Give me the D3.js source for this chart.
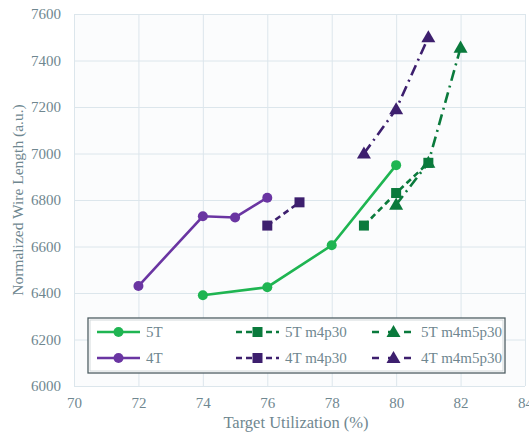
<!DOCTYPE html>
<html>
<head>
<meta charset="utf-8">
<script src="https://cdn.jsdelivr.net/npm/d3@7"></script>
<style>
  body { margin: 0; background: #fff; }
  svg { display: block; }
  svg text { font-family: "Liberation Serif", "DejaVu Serif", serif !important; }
</style>
</head>
<body>
<svg id="chart" width="529" height="436"></svg>
<script>
// data
const seriesNames = ["5T", "5T m4p30", "5T m4m5p30", "4T", "4T m4p30", "4T m4m5p30"];
const x5T = [74, 76, 78, 80];
const y5T = [6390, 6425, 6605, 6950];
const x5Tm4p30 = [79, 80, 81];
const y5Tm4p30 = [6690, 6830, 6960];
const x5Tm4m5p30 = [80, 81, 82];
const y5Tm4m5p30 = [6780, 6960, 7455];
const x4T = [72, 74, 75, 76];
const y4T = [6430, 6730, 6725, 6810];
const x4Tm4p30 = [76, 77];
const y4Tm4p30 = [6690, 6790];
const x4Tm4m5p30 = [79, 80, 81];
const y4Tm4m5p30 = [7000, 7190, 7500];
const xTicks = [70, 72, 74, 76, 78, 80, 82, 84];
const yTicks = [6000, 6200, 6400, 6600, 6800, 7000, 7200, 7400, 7600];

const svg = d3.select("#chart");
const M = {left: 74, right: 525, top: 14, bottom: 386};
const FONT = "Liberation Serif, DejaVu Serif, serif";

const x = d3.scaleLinear().domain([70, 84]).range([M.left, M.right]);
const y = d3.scaleLinear().domain([6000, 7600]).range([M.bottom, M.top]);

const green = "#1fb552", dkgreen = "#0a7a3c", purple = "#6a35a2", dkpurple = "#3d1f6e";
const tickCol = "#6f8790";

const styles = {
  "5T":          {xs: x5T, ys: y5T, color: green, dash: null, shape: "circle"},
  "5T m4p30":    {xs: x5Tm4p30, ys: y5Tm4p30, color: dkgreen, dash: "6,4", shape: "square"},
  "5T m4m5p30":  {xs: x5Tm4m5p30, ys: y5Tm4m5p30, color: dkgreen, dash: "11,5,2,5", shape: "triangle"},
  "4T":          {xs: x4T, ys: y4T, color: purple, dash: null, shape: "circle"},
  "4T m4p30":    {xs: x4Tm4p30, ys: y4Tm4p30, color: dkpurple, dash: "6,4", shape: "square"},
  "4T m4m5p30":  {xs: x4Tm4m5p30, ys: y4Tm4m5p30, color: dkpurple, dash: "11,5,2,5", shape: "triangle"}
};

// plot background + grid
svg.append("rect").attr("x", M.left).attr("y", M.top)
  .attr("width", M.right - M.left).attr("height", M.bottom - M.top)
  .attr("fill", "#fbfcfd");

svg.append("g").attr("transform", `translate(0,${M.bottom})`)
  .call(d3.axisBottom(x).tickValues(xTicks).tickFormat(d3.format("d"))
    .tickSize(-(M.bottom - M.top)).tickPadding(11))
  .call(g => g.select(".domain").remove())
  .call(g => g.selectAll("line").attr("stroke", "#dce6ec").attr("stroke-width", 1))
  .call(g => g.selectAll("text").attr("fill", tickCol).attr("font-size", 15).attr("font-family", FONT));

svg.append("g").attr("transform", `translate(${M.left},0)`)
  .call(d3.axisLeft(y).tickValues(yTicks).tickFormat(d3.format("d"))
    .tickSize(-(M.right - M.left)).tickPadding(13))
  .call(g => g.select(".domain").remove())
  .call(g => g.selectAll("line").attr("stroke", "#dce6ec").attr("stroke-width", 1))
  .call(g => g.selectAll("text").attr("fill", tickCol).attr("font-size", 15).attr("font-family", FONT));

// axis titles
svg.append("text").attr("x", 296).attr("y", 428)
  .attr("text-anchor", "middle").attr("fill", tickCol).attr("font-size", 16.5)
  .attr("font-family", FONT)
  .text("Target Utilization (%)");
svg.append("text").attr("transform", `translate(23,200) rotate(-90)`)
  .attr("text-anchor", "middle").attr("fill", tickCol).attr("font-size", 15.5)
  .attr("font-family", FONT)
  .text("Normalized Wire Length (a.u.)");

function marker(g, shape, color, cx, cy) {
  if (shape === "circle") {
    g.append("circle").attr("cx", cx).attr("cy", cy).attr("r", 5).attr("fill", color);
  } else if (shape === "square") {
    g.append("rect").attr("x", cx - 5).attr("y", cy - 5).attr("width", 10).attr("height", 10).attr("fill", color);
  } else {
    g.append("path").attr("d", d3.symbol(d3.symbolTriangle, 85)()).attr("transform", `translate(${cx},${cy + 1})`).attr("fill", color);
  }
}

const line = d3.line().x(d => x(d[0])).y(d => y(d[1]));

const drawOrder = ["4T m4p30", "4T", "5T", "5T m4p30", "5T m4m5p30", "4T m4m5p30"];
drawOrder.forEach(name => {
  const s = styles[name];
  const pts = s.xs.map((v, i) => [v, s.ys[i]]);
  const g = svg.append("g");
  g.append("path").datum(pts).attr("d", line)
    .attr("fill", "none").attr("stroke", s.color).attr("stroke-width", 2.6)
    .attr("stroke-dasharray", s.dash);
  pts.forEach(p => marker(g, s.shape, s.color, x(p[0]), y(p[1])));
});

// legend
const lg = svg.append("g");
lg.append("rect").attr("x", 88).attr("y", 318).attr("width", 417).attr("height", 55)
  .attr("fill", "#ffffff").attr("stroke", "#4f5f64").attr("stroke-width", 1.3);
lg.append("rect").attr("x", 90).attr("y", 320).attr("width", 413).attr("height", 51)
  .attr("fill", "none").attr("stroke", "#c9d0d3").attr("stroke-width", 0.8);

const legendLayout = [
  {name: "5T", col: 0, row: 0}, {name: "5T m4p30", col: 1, row: 0}, {name: "5T m4m5p30", col: 2, row: 0},
  {name: "4T", col: 0, row: 1}, {name: "4T m4p30", col: 1, row: 1}, {name: "4T m4m5p30", col: 2, row: 1}
];
const colX = [97, 236, 372], rowY = [332, 358];
legendLayout.forEach(e => {
  const s = styles[e.name];
  const x0 = colX[e.col], yy = rowY[e.row];
  const legDash = e.col === 2 ? "7,9" : (e.col === 1 ? "6,4" : null);
  lg.append("line").attr("x1", x0).attr("x2", x0 + 43).attr("y1", yy).attr("y2", yy)
    .attr("stroke", s.color).attr("stroke-width", 2.6).attr("stroke-dasharray", legDash);
  marker(lg, s.shape, s.color, x0 + 21.5, yy);
  lg.append("text").attr("x", x0 + 49).attr("y", yy + 5).attr("fill", tickCol)
    .attr("font-family", FONT).attr("font-size", 15).text(e.name);
});
</script>
</body>
</html>
